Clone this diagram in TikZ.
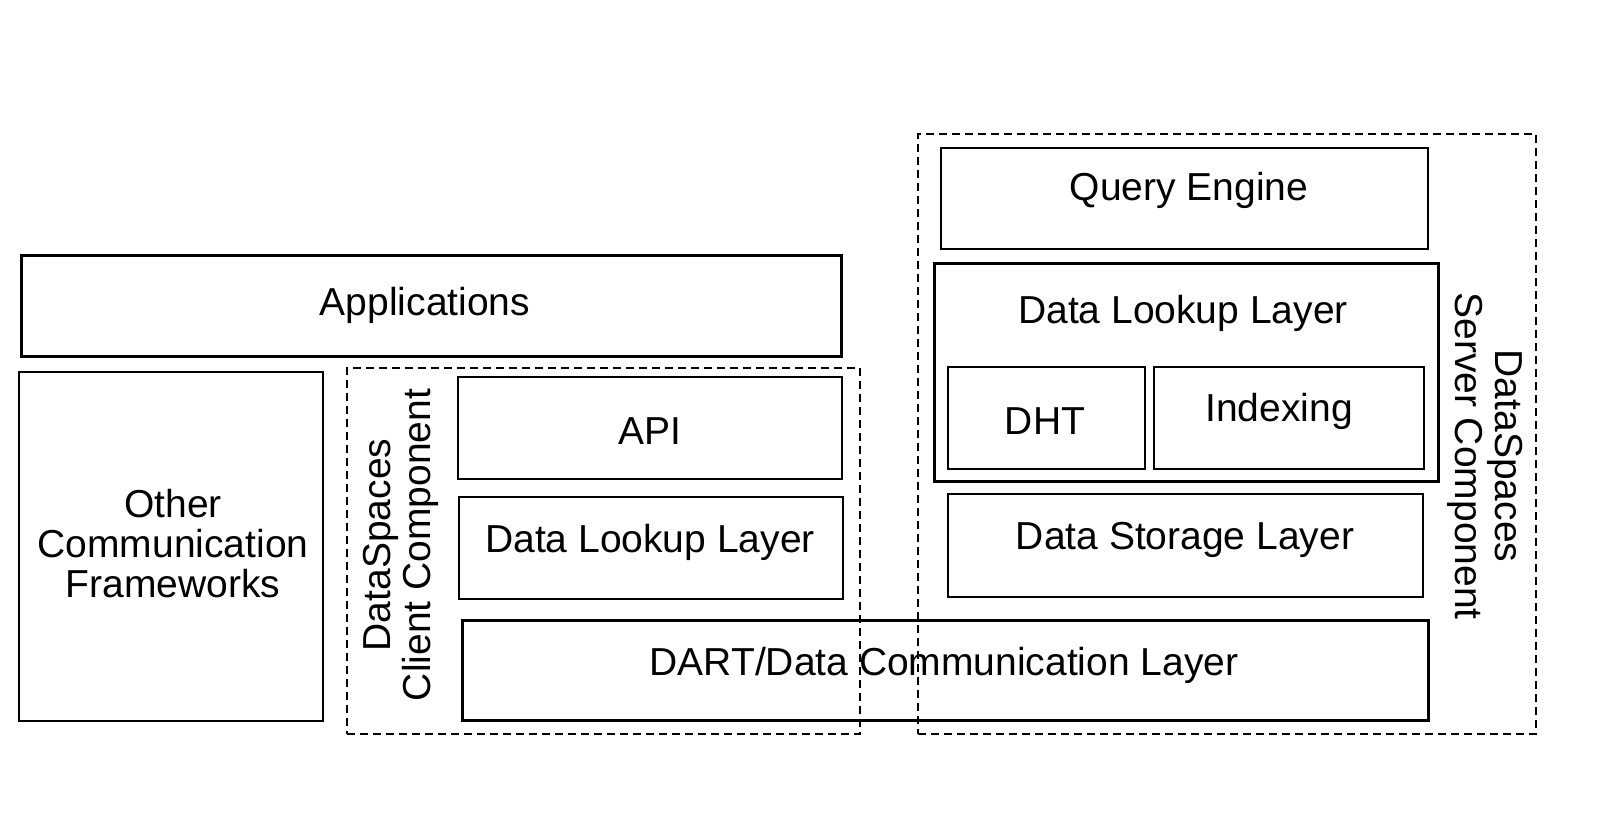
\documentclass[tikz,border=0pt]{standalone}
\usepackage{fontspec}
\setmainfont{Liberation Sans}
\begin{document}
\begin{tikzpicture}[x=0.5pt,y=-0.5pt,
  thickbox/.style={draw, line width=1.5pt, inner sep=0pt},
  medbox/.style={draw, line width=1pt, inner sep=0pt},
  thinbox/.style={draw, line width=0.75pt, inner sep=0pt},
  dashbox/.style={draw, line width=0.75pt, dash pattern=on 4pt off 2.5pt, inner sep=0pt},
  lbl/.style={font=\fontsize{19.5pt}{20pt}\selectfont, align=center, inner sep=0pt}]
\useasboundingbox (0,0) rectangle (1600,830);
% boxes
\node[thickbox, minimum width=410pt, minimum height=50.5pt] (app) at (431,305.5) {};
\node[thinbox, minimum width=152pt, minimum height=174.5pt] (other) at (171,546.5) {};
\node[dashbox, minimum width=256.5pt, minimum height=183pt] (client) at (603.5,551) {};
\node[medbox, minimum width=192pt, minimum height=51pt] (api) at (650,428) {};
\node[thinbox, minimum width=192pt, minimum height=51pt] (cdll) at (651,548) {};
\node[dashbox, minimum width=309pt, minimum height=300pt] (server) at (1227,434) {};
\node[medbox, minimum width=243.5pt, minimum height=50.5pt] (qe) at (1184.5,198.5) {};
\node[thickbox, minimum width=252pt, minimum height=109pt] (sdll) at (1186,372) {};
\node[thinbox, minimum width=98.5pt, minimum height=51pt] (dht) at (1046.5,418) {};
\node[thinbox, minimum width=135pt, minimum height=51pt] (idx) at (1289,418) {};
\node[medbox, minimum width=237.5pt, minimum height=51.5pt] (dsl) at (1185.5,545.5) {};
\node[thickbox, minimum width=483pt, minimum height=50pt] (dart) at (945,670) {};
% labels
\node[lbl] (tapp) at (425,305) {Applications};
\node[lbl] (tother) at (173,544) {Other\\Communication\\Frameworks};
\node[lbl, rotate=90] (tclient) at (401,545) {DataSpaces\\Client Component};
\node[lbl] (tapi) at (650,431) {API};
\node[lbl] (tcdll) at (650,542) {Data Lookup Layer};
\node[lbl] (tqe) at (1189,190) {Query Engine};
\node[lbl] (tsdll) at (1183,313) {Data Lookup Layer};
\node[lbl] (tdht) at (1045,421) {DHT};
\node[lbl] (tidx) at (1279,411) {Indexing};
\node[lbl] (tdsl) at (1185,540) {Data Storage Layer};
\node[lbl] (tdart) at (944,665) {DART/Data Communication Layer};
\node[lbl, rotate=-90] (tserver) at (1485,456) {DataSpaces\\Server Component};
\end{tikzpicture}
\end{document}
